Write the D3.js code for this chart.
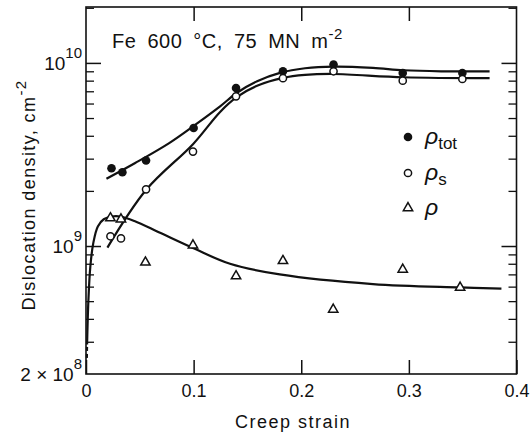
<!DOCTYPE html>
<html>
<head>
<meta charset="utf-8">
<script src="https://cdn.jsdelivr.net/npm/d3@7"></script>
<style>
  html, body { margin: 0; padding: 0; background: #fff; }
  svg { display: block; }
  text { font-family: "Liberation Sans", Arial, sans-serif; fill: #111; }
</style>
</head>
<body>
<svg id="chart" width="532" height="434"></svg>
<script>
// ---- data ----
const xTicks = [0, 0.1, 0.2, 0.3, 0.4];
const xTickLabels = ["0", "0.1", "0.2", "0.3", "0.4"];
const yMajor = [2e8, 1e9, 1e10];
const yMajorBase = ["2 \u00d7 10", "10", "10"];
const yMajorExp = ["8", "9", "10"];

// measured points
const totX = [0.0237, 0.0338, 0.0558, 0.100, 0.1394, 0.1830, 0.2300, 0.2943, 0.3497];
const totY = [2.66e9, 2.53e9, 2.93e9, 4.41e9, 7.3e9, 9.0e9, 9.8e9, 8.8e9, 8.8e9];
const sX = [0.0227, 0.0325, 0.0558, 0.0994, 0.1394, 0.1830, 0.2300, 0.2943, 0.3497];
const sY = [1.13e9, 1.10e9, 2.04e9, 3.28e9, 6.57e9, 8.25e9, 9.0e9, 8.0e9, 8.17e9];
const rX = [0.0227, 0.0325, 0.0552, 0.0994, 0.1394, 0.1830, 0.2297, 0.2943, 0.3476];
const rY = [1.42e9, 1.40e9, 8.14e8, 1.01e9, 6.85e8, 8.3e8, 4.5e8, 7.45e8, 5.94e8];

// fitted curves
const totCurveX = [0.019, 0.0457, 0.0773, 0.0994, 0.1246, 0.140, 0.159, 0.181, 0.2035, 0.230, 0.2666, 0.295, 0.330, 0.375];
const totCurveY = [2.33e9, 2.84e9, 3.65e9, 4.5e9, 5.79e9, 6.85e9, 7.94e9, 8.85e9, 9.35e9, 9.55e9, 9.4e9, 9.12e9, 9.0e9, 9.0e9];
const sCurveX = [0.0199, 0.0563, 0.0994, 0.1246, 0.140, 0.159, 0.183, 0.2035, 0.230, 0.295, 0.375];
const sCurveY = [9.8e8, 2.04e9, 3.6e9, 5.4e9, 6.5e9, 7.5e9, 8.28e9, 8.6e9, 8.7e9, 8.35e9, 8.25e9];
const rCurveX = [0.001, 0.0022, 0.004, 0.0068, 0.011, 0.0165, 0.0239, 0.032, 0.045, 0.0688, 0.0994, 0.1338, 0.180, 0.2666, 0.3476, 0.386];
const rCurveY = [2.9e8, 5.0e8, 7.7e8, 1.04e9, 1.28e9, 1.40e9, 1.45e9, 1.45e9, 1.37e9, 1.18e9, 9.75e8, 8.0e8, 7.0e8, 6.2e8, 5.94e8, 5.85e8];
const rTailX = [0.0008, 0.001];
const rTailY = [2.45e8, 2.9e8];

// ---- layout ----
const L = 86, R = 516.5, T = 7, B = 374;
const svg = d3.select("#chart");
const x = d3.scaleLinear().domain([0, 0.4]).range([L, R]);
const y = d3.scaleLog().domain([2e8, 2.02e10]).range([B, T]);

// minor ticks
const minorVals = [];
for (let d = 1e8; d <= 1e10; d *= 10) for (let k = 2; k <= 9; k++) {
  const v = k * d; if (v > 2e8 && v < 2.02e10 && v !== 1e9 && v !== 1e10) minorVals.push(v);
}

svg.append("rect").attr("x", L).attr("y", T).attr("width", R - L).attr("height", B - T)
  .attr("fill", "none").attr("stroke", "#111").attr("stroke-width", 1.6);

// bottom axis
const gx = svg.append("g").attr("transform", `translate(0,${B})`)
  .call(d3.axisBottom(x).tickValues(xTicks).tickSize(-14).tickPadding(10)
    .tickFormat((d, i) => xTickLabels[i]));
gx.select(".domain").remove();
gx.selectAll("line").attr("stroke", "#111").attr("stroke-width", 1.5);
gx.selectAll("text").attr("font-size", 18).attr("fill", "#111")
  .style("font-family", "Liberation Sans, Arial, sans-serif");

// top axis (ticks only)
const gxt = svg.append("g").attr("transform", `translate(0,${T})`)
  .call(d3.axisTop(x).tickValues([0.1, 0.2, 0.3]).tickSize(-14).tickFormat(""));
gxt.select(".domain").remove();
gxt.selectAll("line").attr("stroke", "#111").attr("stroke-width", 1.5);

// y axes: major + minor ticks, inward
function yAxisTicks(isLeft) {
  const mk = () => isLeft ? d3.axisLeft(y) : d3.axisRight(y);
  const gM = svg.append("g").attr("transform", `translate(${isLeft ? L : R},0)`)
    .call(mk().tickValues([1e9, 1e10]).tickSize(-15).tickFormat(""));
  gM.select(".domain").remove();
  gM.selectAll("line").attr("stroke", "#111").attr("stroke-width", 1.5);
  const gm = svg.append("g").attr("transform", `translate(${isLeft ? L : R},0)`)
    .call(mk().tickValues(minorVals).tickSize(-8).tickFormat(""));
  gm.select(".domain").remove();
  gm.selectAll("line").attr("stroke", "#111").attr("stroke-width", 1.3);
}
yAxisTicks(true);
yAxisTicks(false);

// y tick labels with superscripts
const yl = svg.append("g");
yMajor.forEach((v, i) => {
  const t = yl.append("text").attr("x", 82).attr("y", y(v) + 7)
    .attr("text-anchor", "end").attr("font-size", 19);
  t.append("tspan").text(yMajorBase[i]);
  t.append("tspan").attr("dy", -12).attr("font-size", 15).text(yMajorExp[i]);
});

// axis titles
svg.append("text").attr("x", 293).attr("y", 428).attr("text-anchor", "middle")
  .attr("font-size", 18).attr("letter-spacing", 1.5).text("Creep strain");
const yt = svg.append("text").attr("transform", "translate(35,195) rotate(-90)")
  .attr("text-anchor", "middle").attr("font-size", 18).attr("letter-spacing", 1.4);
yt.append("tspan").text("Dislocation density,  cm");
yt.append("tspan").attr("dy", -9).attr("font-size", 15).text("-2");

// title
const tt = svg.append("text").attr("x", 112).attr("y", 48).attr("font-size", 20)
  .attr("word-spacing", 5).attr("letter-spacing", 0.5);
tt.append("tspan").text("Fe 600 \u00b0C, 75 MN  m");
tt.append("tspan").attr("dy", -9).attr("font-size", 15).text("-2");

// curves
const line = d3.line().x(d => x(d[0])).y(d => y(d[1])).curve(d3.curveCatmullRom.alpha(0.5));
const curves = svg.append("g").attr("fill", "none").attr("stroke", "#111").attr("stroke-width", 2.2);
curves.append("path").attr("d", line(totCurveX.map((v, i) => [v, totCurveY[i]])));
curves.append("path").attr("d", line(sCurveX.map((v, i) => [v, sCurveY[i]])));
curves.append("path").attr("d", line(rCurveX.map((v, i) => [v, rCurveY[i]])));
curves.append("path").attr("d", d3.line().x(d => x(d[0])).y(d => y(d[1]))(rTailX.map((v, i) => [v, rTailY[i]])))
  .attr("stroke-dasharray", "4,3");

// markers
const mk = svg.append("g");
mk.selectAll(".tot").data(totX).join("circle")
  .attr("cx", d => x(d)).attr("cy", (d, i) => y(totY[i])).attr("r", 4.3).attr("fill", "#111");
mk.selectAll(".s").data(sX).join("circle")
  .attr("cx", d => x(d)).attr("cy", (d, i) => y(sY[i])).attr("r", 3.6)
  .attr("fill", "#fff").attr("stroke", "#111").attr("stroke-width", 1.5);
const tri = d3.symbol().type(d3.symbolTriangle).size(38);
mk.selectAll(".r").data(rX).join("path")
  .attr("transform", (d, i) => `translate(${x(d)},${y(rY[i])})`).attr("d", tri)
  .attr("fill", "#fff").attr("stroke", "#111").attr("stroke-width", 1.5);

// legend
const lg = svg.append("g");
const lgY = [137, 173, 208];
lg.append("circle").attr("cx", 408).attr("cy", lgY[0]).attr("r", 4.3).attr("fill", "#111");
lg.append("circle").attr("cx", 408).attr("cy", lgY[1]).attr("r", 3.6).attr("fill", "#fff").attr("stroke", "#111").attr("stroke-width", 1.5);
lg.append("path").attr("transform", `translate(408,${lgY[2]})`).attr("d", tri)
  .attr("fill", "#fff").attr("stroke", "#111").attr("stroke-width", 1.5);
const lgSub = ["tot", "s", ""];
lgY.forEach((yy, i) => {
  const t = lg.append("text").attr("x", 425).attr("y", yy + 7).attr("font-size", 23).attr("font-style", "italic");
  t.append("tspan").text("\u03c1");
  if (lgSub[i]) t.append("tspan").attr("dy", 5).attr("font-size", 17).attr("font-style", "normal").text(lgSub[i]);
});
</script>
</body>
</html>
